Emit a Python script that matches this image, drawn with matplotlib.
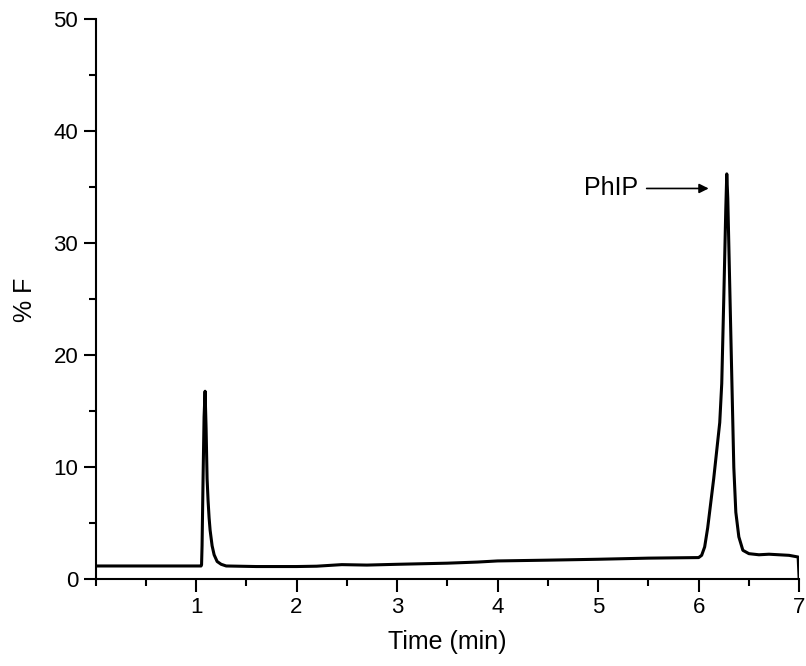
import matplotlib
matplotlib.use('Agg')
import matplotlib.pyplot as plt
from matplotlib.ticker import MultipleLocator

plt.rcParams['font.family'] = ['Liberation Sans', 'DejaVu Sans']

# chromatogram trace (time in min, % F)
time = [0.00, 0.50, 1.00, 1.05, 1.055, 1.06, 1.07, 1.08, 1.09, 1.10, 1.11, 1.12,
        1.13, 1.14, 1.16, 1.18, 1.21, 1.25, 1.30, 1.60, 2.00, 2.20, 2.45, 2.70,
        3.00, 3.50, 3.80, 4.00, 4.50, 5.00, 5.50, 6.00, 6.03, 6.06, 6.09, 6.12,
        6.15, 6.18, 6.21, 6.23, 6.25, 6.27, 6.28, 6.29, 6.30, 6.31, 6.33, 6.35,
        6.37, 6.40, 6.44, 6.50, 6.60, 6.70, 6.80, 6.90, 6.99, 7.00]
signal = [1.20, 1.20, 1.20, 1.20, 1.30, 3.0, 9.0, 14.5, 16.8, 13.5, 9.0, 7.0,
          5.5, 4.4, 3.0, 2.2, 1.6, 1.35, 1.20, 1.15, 1.15, 1.18, 1.32, 1.28,
          1.35, 1.45, 1.55, 1.65, 1.72, 1.80, 1.90, 1.95, 2.15, 2.90, 4.6, 6.8,
          9.0, 11.5, 14.0, 17.5, 25.0, 33.0, 36.2, 34.0, 30.0, 26.0, 18.0, 10.0,
          6.0, 3.8, 2.6, 2.3, 2.20, 2.25, 2.20, 2.15, 2.00, 0.0]

peak_label = 'PhIP'
peak_arrow_tip = (6.10, 34.9)
peak_text_pos = (5.40, 34.9)

fig = plt.figure(figsize=(8.06, 6.66), dpi=100)
ax = fig.add_axes([0.1185, 0.130, 0.873, 0.841])

ax.plot(time, signal, color='black', linewidth=2.2)

ax.set_xlim(0, 7)
ax.set_ylim(0, 50)
ax.set_xticks([1, 2, 3, 4, 5, 6, 7])
ax.xaxis.set_minor_locator(MultipleLocator(0.5))
ax.set_yticks([0, 10, 20, 30, 40, 50])
ax.yaxis.set_minor_locator(MultipleLocator(5))

for s in ['top', 'right']:
    ax.spines[s].set_visible(False)
for s in ['left', 'bottom']:
    ax.spines[s].set_linewidth(1.5)
ax.tick_params(which='major', direction='out', length=9, width=1.5, labelsize=16)
ax.tick_params(which='minor', direction='out', length=5, width=1.5)

ax.set_xlabel('Time (min)', fontsize=18, labelpad=9)
ax.set_ylabel('% F', fontsize=18, labelpad=12)

ax.annotate(peak_label, xy=peak_arrow_tip, xytext=peak_text_pos,
            ha='right', va='center', fontsize=18,
            arrowprops=dict(arrowstyle='-|>', color='black', lw=1.2,
                            mutation_scale=14, shrinkA=4, shrinkB=0))

fig.savefig('out.png', dpi=100)
